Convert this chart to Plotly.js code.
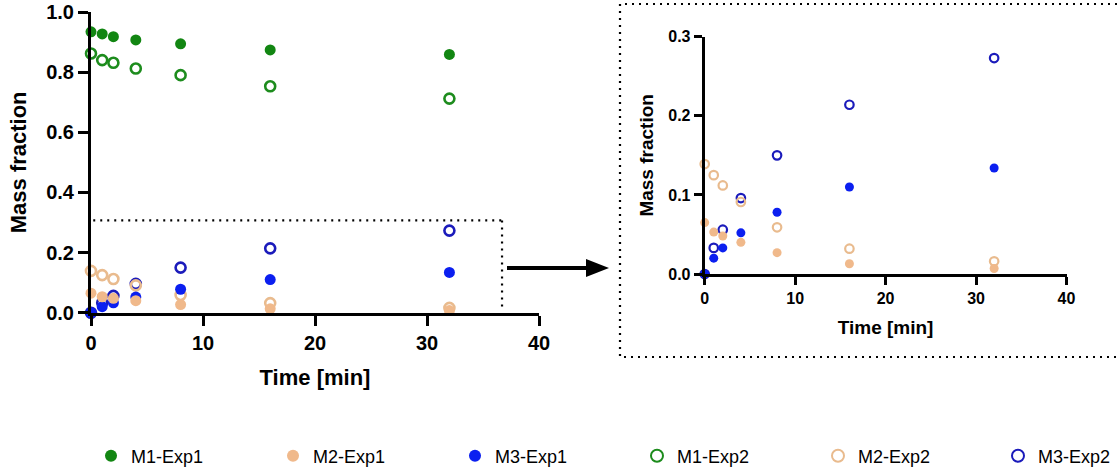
<!DOCTYPE html>
<html>
<head>
<meta charset="utf-8">
<script src="https://cdn.plot.ly/plotly-3.0.1.min.js"></script>
<style>html,body{margin:0;padding:0;background:#fff;}#chart{width:1117px;height:472px;}</style>
</head>
<body>
<div id="chart"></div>
<script>
// ---- data ----
const time = [0, 1, 2, 4, 8, 16, 32];
const m1Exp1 = [0.934, 0.927, 0.918, 0.907, 0.894, 0.874, 0.859];
const m2Exp1 = [0.065, 0.053, 0.048, 0.040, 0.027, 0.013, 0.007];
const m3Exp1 = [0.000, 0.020, 0.033, 0.052, 0.078, 0.110, 0.134];
const m1Exp2 = [0.862, 0.840, 0.831, 0.812, 0.790, 0.753, 0.712];
const m2Exp2 = [0.139, 0.125, 0.112, 0.091, 0.059, 0.032, 0.016];
const m3Exp2 = [0.000, 0.033, 0.056, 0.096, 0.150, 0.214, 0.273];
const seriesNames = ['M1-Exp1', 'M2-Exp1', 'M3-Exp1', 'M1-Exp2', 'M2-Exp2', 'M3-Exp2'];
const xTickVals = [0, 10, 20, 30, 40];

// ---- styling ----
const W = 1117, H = 472;
const px = v => v / W, py = v => 1 - v / H;
const FONT = 'Liberation Sans, Arial, sans-serif';
const styles = {
  'M1-Exp1': {color: '#128612', open: false},
  'M2-Exp1': {color: '#f0b98b', open: false},
  'M3-Exp1': {color: '#0b1ff0', open: false},
  'M1-Exp2': {color: '#1d8c1d', open: true},
  'M2-Exp2': {color: '#e9bb8e', open: true},
  'M3-Exp2': {color: '#1b1bbb', open: true}
};
const values = {
  'M1-Exp1': m1Exp1, 'M2-Exp1': m2Exp1, 'M3-Exp1': m3Exp1,
  'M1-Exp2': m1Exp2, 'M2-Exp2': m2Exp2, 'M3-Exp2': m3Exp2
};
// legend entry left edges (pixels) – one legend box per series
const legendLeft = [91, 273, 455, 637, 818, 998];
// drawing order (back to front)
const drawOrder = ['M1-Exp2', 'M3-Exp2', 'M2-Exp2', 'M1-Exp1', 'M3-Exp1', 'M2-Exp1'];

const legendId = i => (i === 0 ? 'legend' : 'legend' + (i + 1));

const traces = [];
drawOrder.forEach(name => {
  const s = styles[name];
  const idx = seriesNames.indexOf(name);
  traces.push({
    type: 'scatter', mode: 'markers', name: name, x: time, y: values[name],
    xaxis: 'x', yaxis: 'y', legend: legendId(idx), cliponaxis: false,
    marker: s.open ? {symbol: 'circle-open', size: 10, color: s.color, line: {width: 2.6, color: s.color}}
                   : {symbol: 'circle', size: 11, color: s.color, line: {width: 0}}
  });
});
drawOrder.forEach(name => {
  const s = styles[name];
  traces.push({
    type: 'scatter', mode: 'markers', name: name, x: time, y: values[name],
    xaxis: 'x2', yaxis: 'y2', showlegend: false, cliponaxis: false,
    marker: s.open ? {symbol: 'circle-open', size: 8.5, color: s.color, line: {width: 2.2, color: s.color}}
                   : {symbol: 'circle', size: 9, color: s.color, line: {width: 0}}
  });
});

const axisBase = {
  showgrid: false, zeroline: false, showline: true, linecolor: '#000', linewidth: 3,
  ticks: 'outside', tickcolor: '#000', tickwidth: 3, mirror: false, automargin: false
};

const dotDash = '2px,5px';
const boxPath = 'M ' + px(1117) + ' ' + py(4) + ' L ' + px(620) + ' ' + py(4) +
                ' L ' + px(620) + ' ' + py(357) + ' L ' + px(1117) + ' ' + py(357);
const arrowY = py(268);
const layout = {
  width: W, height: H,
  margin: {l: 0, r: 0, t: 0, b: 0, autoexpand: false},
  paper_bgcolor: '#fff', plot_bgcolor: 'rgba(0,0,0,0)',
  font: {family: FONT, color: '#000'},
  showlegend: true,
  xaxis: Object.assign({}, axisBase, {
    domain: [px(91), px(539)], range: [0, 40], tickvals: xTickVals, ticklen: 10,
    tickfont: {family: FONT, size: 20, weight: 'bold'},
    title: {text: 'Time [min]', font: {family: FONT, size: 22, weight: 'bold'}, standoff: 17},
    anchor: 'y'
  }),
  yaxis: Object.assign({}, axisBase, {
    domain: [py(312.7), py(12)], range: [0, 1], dtick: 0.2, tick0: 0, tickformat: '.1f', ticklen: 10,
    tickfont: {family: FONT, size: 20, weight: 'bold'},
    title: {text: 'Mass fraction', font: {family: FONT, size: 22, weight: 'bold'}, standoff: 14},
    anchor: 'x'
  }),
  xaxis2: Object.assign({}, axisBase, {
    domain: [px(704.7), px(1066.5)], range: [0, 40], tickvals: xTickVals, ticklen: 8,
    tickfont: {family: FONT, size: 16, weight: 'bold'},
    title: {text: 'Time [min]', font: {family: FONT, size: 19, weight: 'bold'}, standoff: 15},
    anchor: 'y2'
  }),
  yaxis2: Object.assign({}, axisBase, {
    domain: [py(274), py(36.7)], range: [0, 0.3], dtick: 0.1, tick0: 0, tickformat: '.1f', ticklen: 8,
    tickfont: {family: FONT, size: 16, weight: 'bold'},
    title: {text: 'Mass fraction', font: {family: FONT, size: 19, weight: 'bold'}, standoff: 10},
    anchor: 'x2'
  }),
  shapes: [
    // dotted zoom region in the main plot
    {type: 'line', xref: 'x', yref: 'y', x0: 0.2, y0: 0.307, x1: 36.7, y1: 0.307,
     line: {color: '#000', width: 2.2, dash: dotDash}},
    {type: 'line', xref: 'x', yref: 'y', x0: 36.7, y0: 0.307, x1: 36.7, y1: 0.012,
     line: {color: '#000', width: 2.2, dash: dotDash}},
    // dotted frame around the inset
    {type: 'path', xref: 'paper', yref: 'paper', path: boxPath,
     line: {color: '#000', width: 2.2, dash: dotDash}},
    // arrow
    {type: 'line', xref: 'paper', yref: 'paper', x0: px(507), y0: arrowY, x1: px(590), y1: arrowY,
     line: {color: '#000', width: 4}},
    {type: 'path', xref: 'paper', yref: 'paper',
     path: 'M ' + px(586) + ' ' + py(259) + ' L ' + px(609) + ' ' + arrowY + ' L ' + px(586) + ' ' + py(277) + ' Z',
     fillcolor: '#000', line: {color: '#000', width: 0}}
  ]
};
seriesNames.forEach((name, i) => {
  layout[legendId(i)] = {
    orientation: 'h', x: px(legendLeft[i]), xanchor: 'left', y: py(456), yanchor: 'middle',
    font: {family: FONT, size: 18, color: '#000'}, itemsizing: 'constant',
    bgcolor: 'rgba(0,0,0,0)', borderwidth: 0
  };
});

Plotly.newPlot('chart', traces, layout, {staticPlot: true, displayModeBar: false});
</script>
</body>
</html>
